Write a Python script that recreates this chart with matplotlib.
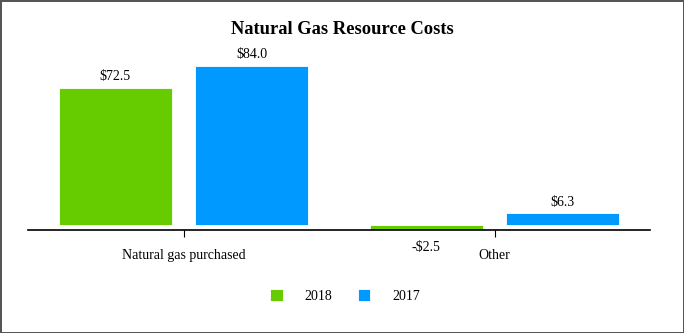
import matplotlib.pyplot as plt
import numpy as np

categories = ['Natural gas purchased', 'Other']
series_names = ['2018', '2017']
values_2018 = [72.5, -2.5]
values_2017 = [84.0, 6.3]
colors = ['#66CC00', '#0099FF']

plt.rcParams['font.family'] = ['Liberation Serif', 'DejaVu Serif']

fig = plt.figure(figsize=(6.84, 3.33), dpi=100)
fig.patch.set_edgecolor('#555555')
fig.patch.set_linewidth(2)

# axes placed in pixel terms: left 28, right 650, bottom 230, top 40
W, H = 684, 333
ax = fig.add_axes([28 / W, (H - 230) / H, (650 - 28) / W, (230 - 40) / H])

x = np.arange(len(categories))
width = 0.363
offset = 0.219
ymin, ymax = -2.5, 97.5

for vals, name, col, dx in [(values_2018, series_names[0], colors[0], -offset),
                            (values_2017, series_names[1], colors[1], offset)]:
    bars = ax.bar(x + dx, vals, width, color=col, label=name,
                  edgecolor='white', linewidth=0.6)
    for b, v in zip(bars, vals):
        cx = b.get_x() + b.get_width() / 2
        if v >= 0:
            ax.annotate(f'${v:.1f}', (cx, v), xytext=(0, 3),
                        textcoords='offset points',
                        ha='center', va='bottom', fontsize=10)
        else:
            # negative values are labelled under the axis line
            ax.annotate(f'-${abs(v):.1f}', (cx, ymin), xytext=(0, -8),
                        textcoords='offset points',
                        ha='center', va='top', fontsize=10)

ax.set_xlim(-0.5, 1.5)
ax.set_ylim(ymin, ymax)

ax.set_xticks(x)
ax.set_xticklabels(categories, fontsize=10)
ax.tick_params(axis='x', length=5, width=0.8, pad=9, direction='out')
ax.set_yticks([])
for s in ['top', 'right', 'left']:
    ax.spines[s].set_visible(False)
ax.spines['bottom'].set_linewidth(1.2)

fig.text(342 / W, 1 - 29 / H, 'Natural Gas Resource Costs',
         ha='center', va='center', fontsize=13.3, fontweight='bold')

fig.legend(loc='center', bbox_to_anchor=(345 / W, 1 - 296 / H), ncol=2,
           frameon=False, fontsize=10, handlelength=0.9, handleheight=0.9,
           columnspacing=1.8, handletextpad=1.6)

fig.savefig('out.png', dpi=100, edgecolor=fig.get_edgecolor())
